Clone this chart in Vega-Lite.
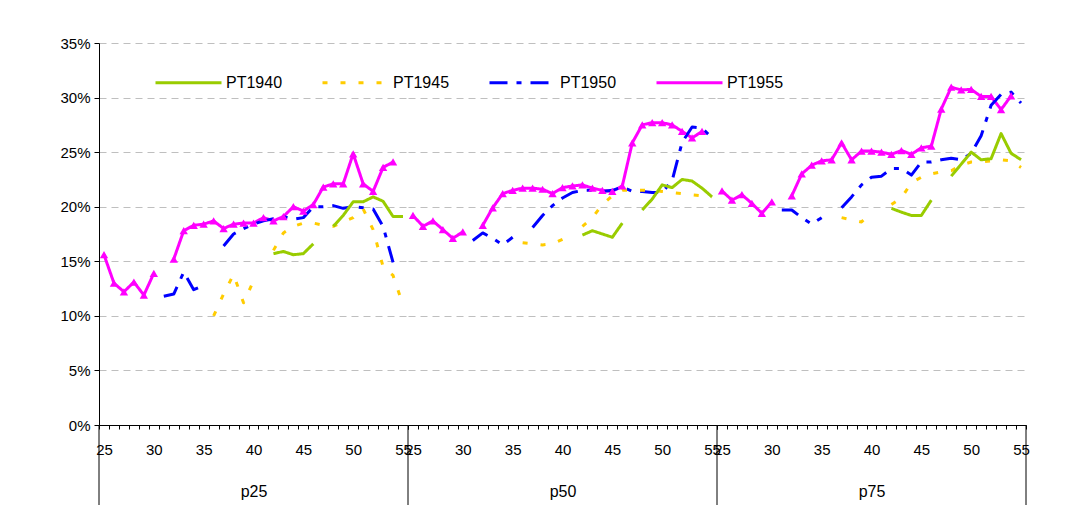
{
  "$schema": "https://vega.github.io/schema/vega-lite/v6.json",
  "background": "white",
  "padding": {"left": 59, "top": 36, "right": 5, "bottom": 5},
  "bounds": "flush",
  "datasets": {"d": [
    {"g":"p25","s":"PT1955","a":25,"v":15.6},{"g":"p25","s":"PT1955","a":26,"v":13.0},{"g":"p25","s":"PT1955","a":27,"v":12.2},{"g":"p25","s":"PT1955","a":28,"v":13.1},{"g":"p25","s":"PT1955","a":29,"v":11.9},{"g":"p25","s":"PT1955","a":30,"v":13.9},{"g":"p25","s":"PT1955","a":31,"v":null},{"g":"p25","s":"PT1955","a":32,"v":15.2},{"g":"p25","s":"PT1955","a":33,"v":17.8},{"g":"p25","s":"PT1955","a":34,"v":18.3},{"g":"p25","s":"PT1955","a":35,"v":18.4},{"g":"p25","s":"PT1955","a":36,"v":18.7},{"g":"p25","s":"PT1955","a":37,"v":18.0},{"g":"p25","s":"PT1955","a":38,"v":18.4},{"g":"p25","s":"PT1955","a":39,"v":18.5},{"g":"p25","s":"PT1955","a":40,"v":18.5},{"g":"p25","s":"PT1955","a":41,"v":19.0},{"g":"p25","s":"PT1955","a":42,"v":18.7},{"g":"p25","s":"PT1955","a":43,"v":19.1},{"g":"p25","s":"PT1955","a":44,"v":20.0},{"g":"p25","s":"PT1955","a":45,"v":19.6},{"g":"p25","s":"PT1955","a":46,"v":20.2},{"g":"p25","s":"PT1955","a":47,"v":21.8},{"g":"p25","s":"PT1955","a":48,"v":22.1},{"g":"p25","s":"PT1955","a":49,"v":22.1},{"g":"p25","s":"PT1955","a":50,"v":24.85},{"g":"p25","s":"PT1955","a":51,"v":22.1},{"g":"p25","s":"PT1955","a":52,"v":21.4},{"g":"p25","s":"PT1955","a":53,"v":23.6},{"g":"p25","s":"PT1955","a":54,"v":24.1},
    {"g":"p50","s":"PT1955","a":25,"v":19.2},{"g":"p50","s":"PT1955","a":26,"v":18.2},{"g":"p50","s":"PT1955","a":27,"v":18.7},{"g":"p50","s":"PT1955","a":28,"v":17.9},{"g":"p50","s":"PT1955","a":29,"v":17.1},{"g":"p50","s":"PT1955","a":30,"v":17.7},{"g":"p50","s":"PT1955","a":31,"v":null},{"g":"p50","s":"PT1955","a":32,"v":18.3},{"g":"p50","s":"PT1955","a":33,"v":19.9},{"g":"p50","s":"PT1955","a":34,"v":21.2},{"g":"p50","s":"PT1955","a":35,"v":21.5},{"g":"p50","s":"PT1955","a":36,"v":21.7},{"g":"p50","s":"PT1955","a":37,"v":21.7},{"g":"p50","s":"PT1955","a":38,"v":21.6},{"g":"p50","s":"PT1955","a":39,"v":21.2},{"g":"p50","s":"PT1955","a":40,"v":21.75},{"g":"p50","s":"PT1955","a":41,"v":21.9},{"g":"p50","s":"PT1955","a":42,"v":22.0},{"g":"p50","s":"PT1955","a":43,"v":21.7},{"g":"p50","s":"PT1955","a":44,"v":21.5},{"g":"p50","s":"PT1955","a":45,"v":21.4},{"g":"p50","s":"PT1955","a":46,"v":21.9},{"g":"p50","s":"PT1955","a":47,"v":25.85},{"g":"p50","s":"PT1955","a":48,"v":27.5},{"g":"p50","s":"PT1955","a":49,"v":27.7},{"g":"p50","s":"PT1955","a":50,"v":27.7},{"g":"p50","s":"PT1955","a":51,"v":27.5},{"g":"p50","s":"PT1955","a":52,"v":26.9},{"g":"p50","s":"PT1955","a":53,"v":26.3},{"g":"p50","s":"PT1955","a":54,"v":26.9},
    {"g":"p75","s":"PT1955","a":25,"v":21.45},{"g":"p75","s":"PT1955","a":26,"v":20.6},{"g":"p75","s":"PT1955","a":27,"v":21.1},{"g":"p75","s":"PT1955","a":28,"v":20.3},{"g":"p75","s":"PT1955","a":29,"v":19.4},{"g":"p75","s":"PT1955","a":30,"v":20.45},{"g":"p75","s":"PT1955","a":31,"v":null},{"g":"p75","s":"PT1955","a":32,"v":21.0},{"g":"p75","s":"PT1955","a":33,"v":23.0},{"g":"p75","s":"PT1955","a":34,"v":23.8},{"g":"p75","s":"PT1955","a":35,"v":24.2},{"g":"p75","s":"PT1955","a":36,"v":24.3},{"g":"p75","s":"PT1955","a":37,"v":25.85},{"g":"p75","s":"PT1955","a":38,"v":24.3},{"g":"p75","s":"PT1955","a":39,"v":25.1},{"g":"p75","s":"PT1955","a":40,"v":25.1},{"g":"p75","s":"PT1955","a":41,"v":25.0},{"g":"p75","s":"PT1955","a":42,"v":24.8},{"g":"p75","s":"PT1955","a":43,"v":25.15},{"g":"p75","s":"PT1955","a":44,"v":24.8},{"g":"p75","s":"PT1955","a":45,"v":25.4},{"g":"p75","s":"PT1955","a":46,"v":25.55},{"g":"p75","s":"PT1955","a":47,"v":28.95},{"g":"p75","s":"PT1955","a":48,"v":30.95},{"g":"p75","s":"PT1955","a":49,"v":30.7},{"g":"p75","s":"PT1955","a":50,"v":30.75},{"g":"p75","s":"PT1955","a":51,"v":30.1},{"g":"p75","s":"PT1955","a":52,"v":30.1},{"g":"p75","s":"PT1955","a":53,"v":28.9},{"g":"p75","s":"PT1955","a":54,"v":30.15},
    {"g":"p25","s":"PT1950","a":31,"v":11.8},{"g":"p25","s":"PT1950","a":32,"v":12.0},{"g":"p25","s":"PT1950","a":33,"v":14.0},{"g":"p25","s":"PT1950","a":34,"v":12.4},{"g":"p25","s":"PT1950","a":35,"v":12.8},{"g":"p25","s":"PT1950","a":36,"v":null},{"g":"p25","s":"PT1950","a":37,"v":16.4},{"g":"p25","s":"PT1950","a":38,"v":17.5},{"g":"p25","s":"PT1950","a":39,"v":18.0},{"g":"p25","s":"PT1950","a":40,"v":18.4},{"g":"p25","s":"PT1950","a":41,"v":18.7},{"g":"p25","s":"PT1950","a":42,"v":18.9},{"g":"p25","s":"PT1950","a":43,"v":19.1},{"g":"p25","s":"PT1950","a":44,"v":18.85},{"g":"p25","s":"PT1950","a":45,"v":19.0},{"g":"p25","s":"PT1950","a":46,"v":20.0},{"g":"p25","s":"PT1950","a":47,"v":20.0},{"g":"p25","s":"PT1950","a":48,"v":20.1},{"g":"p25","s":"PT1950","a":49,"v":19.85},{"g":"p25","s":"PT1950","a":50,"v":20.0},{"g":"p25","s":"PT1950","a":51,"v":19.9},{"g":"p25","s":"PT1950","a":52,"v":19.8},{"g":"p25","s":"PT1950","a":53,"v":18.2},{"g":"p25","s":"PT1950","a":54,"v":14.9},
    {"g":"p50","s":"PT1950","a":31,"v":16.9},{"g":"p50","s":"PT1950","a":32,"v":17.6},{"g":"p50","s":"PT1950","a":33,"v":17.1},{"g":"p50","s":"PT1950","a":34,"v":16.5},{"g":"p50","s":"PT1950","a":35,"v":17.2},{"g":"p50","s":"PT1950","a":36,"v":null},{"g":"p50","s":"PT1950","a":37,"v":18.1},{"g":"p50","s":"PT1950","a":38,"v":19.2},{"g":"p50","s":"PT1950","a":39,"v":20.1},{"g":"p50","s":"PT1950","a":40,"v":20.8},{"g":"p50","s":"PT1950","a":41,"v":21.3},{"g":"p50","s":"PT1950","a":42,"v":21.5},{"g":"p50","s":"PT1950","a":43,"v":21.5},{"g":"p50","s":"PT1950","a":44,"v":21.4},{"g":"p50","s":"PT1950","a":45,"v":21.5},{"g":"p50","s":"PT1950","a":46,"v":21.8},{"g":"p50","s":"PT1950","a":47,"v":21.4},{"g":"p50","s":"PT1950","a":48,"v":21.4},{"g":"p50","s":"PT1950","a":49,"v":21.3},{"g":"p50","s":"PT1950","a":50,"v":21.3},{"g":"p50","s":"PT1950","a":51,"v":22.4},{"g":"p50","s":"PT1950","a":52,"v":25.9},{"g":"p50","s":"PT1950","a":53,"v":27.3},{"g":"p50","s":"PT1950","a":54,"v":27.2},{"g":"p50","s":"PT1950","a":55,"v":26.3},
    {"g":"p75","s":"PT1950","a":31,"v":19.7},{"g":"p75","s":"PT1950","a":32,"v":19.7},{"g":"p75","s":"PT1950","a":33,"v":19.0},{"g":"p75","s":"PT1950","a":34,"v":18.4},{"g":"p75","s":"PT1950","a":35,"v":19.0},{"g":"p75","s":"PT1950","a":36,"v":null},{"g":"p75","s":"PT1950","a":37,"v":19.9},{"g":"p75","s":"PT1950","a":38,"v":20.9},{"g":"p75","s":"PT1950","a":39,"v":22.0},{"g":"p75","s":"PT1950","a":40,"v":22.7},{"g":"p75","s":"PT1950","a":41,"v":22.8},{"g":"p75","s":"PT1950","a":42,"v":23.5},{"g":"p75","s":"PT1950","a":43,"v":23.5},{"g":"p75","s":"PT1950","a":44,"v":22.9},{"g":"p75","s":"PT1950","a":45,"v":24.1},{"g":"p75","s":"PT1950","a":46,"v":24.1},{"g":"p75","s":"PT1950","a":47,"v":24.3},{"g":"p75","s":"PT1950","a":48,"v":24.45},{"g":"p75","s":"PT1950","a":49,"v":24.3},{"g":"p75","s":"PT1950","a":50,"v":24.9},{"g":"p75","s":"PT1950","a":51,"v":26.5},{"g":"p75","s":"PT1950","a":52,"v":29.3},{"g":"p75","s":"PT1950","a":53,"v":30.3},{"g":"p75","s":"PT1950","a":54,"v":30.5},{"g":"p75","s":"PT1950","a":55,"v":29.5},
    {"g":"p25","s":"PT1945","a":36,"v":10.0},{"g":"p25","s":"PT1945","a":37,"v":12.0},{"g":"p25","s":"PT1945","a":38,"v":13.8},{"g":"p25","s":"PT1945","a":39,"v":11.2},{"g":"p25","s":"PT1945","a":40,"v":13.2},{"g":"p25","s":"PT1945","a":41,"v":null},{"g":"p25","s":"PT1945","a":42,"v":16.0},{"g":"p25","s":"PT1945","a":43,"v":17.6},{"g":"p25","s":"PT1945","a":44,"v":18.2},{"g":"p25","s":"PT1945","a":45,"v":18.5},{"g":"p25","s":"PT1945","a":46,"v":18.5},{"g":"p25","s":"PT1945","a":47,"v":18.3},{"g":"p25","s":"PT1945","a":48,"v":18.2},{"g":"p25","s":"PT1945","a":49,"v":18.6},{"g":"p25","s":"PT1945","a":50,"v":19.0},{"g":"p25","s":"PT1945","a":51,"v":19.8},{"g":"p25","s":"PT1945","a":52,"v":17.9},{"g":"p25","s":"PT1945","a":53,"v":14.5},{"g":"p25","s":"PT1945","a":54,"v":13.7},{"g":"p25","s":"PT1945","a":55,"v":11.0},
    {"g":"p50","s":"PT1945","a":36,"v":16.7},{"g":"p50","s":"PT1945","a":37,"v":16.6},{"g":"p50","s":"PT1945","a":38,"v":16.5},{"g":"p50","s":"PT1945","a":39,"v":16.6},{"g":"p50","s":"PT1945","a":40,"v":17.0},{"g":"p50","s":"PT1945","a":41,"v":null},{"g":"p50","s":"PT1945","a":42,"v":18.2},{"g":"p50","s":"PT1945","a":43,"v":19.0},{"g":"p50","s":"PT1945","a":44,"v":20.2},{"g":"p50","s":"PT1945","a":45,"v":21.0},{"g":"p50","s":"PT1945","a":46,"v":21.5},{"g":"p50","s":"PT1945","a":47,"v":21.5},{"g":"p50","s":"PT1945","a":48,"v":21.5},{"g":"p50","s":"PT1945","a":49,"v":21.5},{"g":"p50","s":"PT1945","a":50,"v":21.4},{"g":"p50","s":"PT1945","a":51,"v":21.3},{"g":"p50","s":"PT1945","a":52,"v":21.2},{"g":"p50","s":"PT1945","a":53,"v":21.1},{"g":"p50","s":"PT1945","a":54,"v":21.0},{"g":"p50","s":"PT1945","a":55,"v":20.9},
    {"g":"p75","s":"PT1945","a":37,"v":19.0},{"g":"p75","s":"PT1945","a":38,"v":18.8},{"g":"p75","s":"PT1945","a":39,"v":18.6},{"g":"p75","s":"PT1945","a":40,"v":19.5},{"g":"p75","s":"PT1945","a":41,"v":null},{"g":"p75","s":"PT1945","a":42,"v":20.2},{"g":"p75","s":"PT1945","a":43,"v":20.8},{"g":"p75","s":"PT1945","a":44,"v":22.2},{"g":"p75","s":"PT1945","a":45,"v":22.7},{"g":"p75","s":"PT1945","a":46,"v":23.0},{"g":"p75","s":"PT1945","a":47,"v":23.2},{"g":"p75","s":"PT1945","a":48,"v":23.3},{"g":"p75","s":"PT1945","a":49,"v":23.8},{"g":"p75","s":"PT1945","a":50,"v":24.1},{"g":"p75","s":"PT1945","a":51,"v":24.1},{"g":"p75","s":"PT1945","a":52,"v":24.2},{"g":"p75","s":"PT1945","a":53,"v":24.3},{"g":"p75","s":"PT1945","a":54,"v":24.2},{"g":"p75","s":"PT1945","a":55,"v":23.6},
    {"g":"p25","s":"PT1940","a":42,"v":15.7},{"g":"p25","s":"PT1940","a":43,"v":15.9},{"g":"p25","s":"PT1940","a":44,"v":15.6},{"g":"p25","s":"PT1940","a":45,"v":15.7},{"g":"p25","s":"PT1940","a":46,"v":16.6},{"g":"p25","s":"PT1940","a":47,"v":null},{"g":"p25","s":"PT1940","a":48,"v":18.2},{"g":"p25","s":"PT1940","a":49,"v":19.2},{"g":"p25","s":"PT1940","a":50,"v":20.45},{"g":"p25","s":"PT1940","a":51,"v":20.45},{"g":"p25","s":"PT1940","a":52,"v":20.9},{"g":"p25","s":"PT1940","a":53,"v":20.5},{"g":"p25","s":"PT1940","a":54,"v":19.1},{"g":"p25","s":"PT1940","a":55,"v":19.1},
    {"g":"p50","s":"PT1940","a":42,"v":17.4},{"g":"p50","s":"PT1940","a":43,"v":17.8},{"g":"p50","s":"PT1940","a":44,"v":17.5},{"g":"p50","s":"PT1940","a":45,"v":17.2},{"g":"p50","s":"PT1940","a":46,"v":18.5},{"g":"p50","s":"PT1940","a":47,"v":null},{"g":"p50","s":"PT1940","a":48,"v":19.7},{"g":"p50","s":"PT1940","a":49,"v":20.7},{"g":"p50","s":"PT1940","a":50,"v":22.0},{"g":"p50","s":"PT1940","a":51,"v":21.75},{"g":"p50","s":"PT1940","a":52,"v":22.5},{"g":"p50","s":"PT1940","a":53,"v":22.35},{"g":"p50","s":"PT1940","a":54,"v":21.7},{"g":"p50","s":"PT1940","a":55,"v":20.9},
    {"g":"p75","s":"PT1940","a":42,"v":19.85},{"g":"p75","s":"PT1940","a":43,"v":19.5},{"g":"p75","s":"PT1940","a":44,"v":19.2},{"g":"p75","s":"PT1940","a":45,"v":19.2},{"g":"p75","s":"PT1940","a":46,"v":20.6},{"g":"p75","s":"PT1940","a":47,"v":null},{"g":"p75","s":"PT1940","a":48,"v":22.8},{"g":"p75","s":"PT1940","a":49,"v":23.9},{"g":"p75","s":"PT1940","a":50,"v":25.0},{"g":"p75","s":"PT1940","a":51,"v":24.3},{"g":"p75","s":"PT1940","a":52,"v":24.4},{"g":"p75","s":"PT1940","a":53,"v":26.7},{"g":"p75","s":"PT1940","a":54,"v":24.9},{"g":"p75","s":"PT1940","a":55,"v":24.3}
  ]},
  "data": {"name": "d"},
  "spacing": 0,
  "hconcat": [
    {
      "width": 309, "height": 382,
      "transform": [{"filter": "datum.g == 'p25'"}],
      "resolve": {"axis": {"x": "independent"}},
      "layer": [
        {
          "mark": {"type": "line", "strokeWidth": 3, "strokeCap": "butt", "strokeJoin": "round", "invalid": "break-paths-filter-domains"},
          "encoding": {
            "x": {"field": "a", "type": "quantitative", "scale": {"domain": [24.5, 55.5], "nice": false, "zero": false},
              "axis": {"orient": "bottom", "title": null, "grid": false, "labels": false, "tickSize": 4, "tickColor": "black", "domainColor": "black",
                "values": [24.5,25.5,26.5,27.5,28.5,29.5,30.5,31.5,32.5,33.5,34.5,35.5,36.5,37.5,38.5,39.5,40.5,41.5,42.5,43.5,44.5,45.5,46.5,47.5,48.5,49.5,50.5,51.5,52.5,53.5,54.5,55.5]}},
            "y": {"field": "v", "type": "quantitative", "scale": {"domain": [0, 35], "nice": false},
              "axis": {"title": null, "values": [0,5,10,15,20,25,30,35], "labelExpr": "datum.value + '%'",
                "grid": true, "gridDash": [7, 5], "gridColor": "#BFBFBF",
                "gridOpacity": {"condition": {"test": "datum.value == 0", "value": 0}, "value": 1},
                "tickSize": 5, "tickColor": "black", "domainColor": "black", "labelPadding": 4}},
            "color": {"field": "s", "type": "nominal", "scale": {"domain": ["PT1940","PT1945","PT1950","PT1955"], "range": ["#99CC00","#FFCC00","#0000FF","#FF00FF"]},
              "legend": {"title": null, "orient": "none", "direction": "horizontal", "legendX": 53, "legendY": 3, "symbolType": "stroke", "symbolSize": 4356, "symbolStrokeWidth": 3, "labelOffset": 3, "columnPadding": 33, "gridAlign": "all", "padding": 2, "fillColor": "white", "labelFontSize": 16, "labelFont": "Liberation Sans", "labelColor": "black"}},
            "strokeDash": {"field": "s", "type": "nominal", "scale": {"domain": ["PT1940","PT1945","PT1950","PT1955"], "range": [[1,0],[5,13],[18,9,5,9],[1,0]]},
              "legend": {"title": null, "orient": "none", "direction": "horizontal", "legendX": 53, "legendY": 3, "symbolType": "stroke", "symbolSize": 4356, "symbolStrokeWidth": 3, "labelOffset": 3, "columnPadding": 33, "gridAlign": "all", "padding": 2, "fillColor": "white", "labelFontSize": 16, "labelFont": "Liberation Sans", "labelColor": "black"}}
          }
        },
        {
          "transform": [{"filter": "datum.s == 'PT1955' && isValid(datum.v)"}],
          "mark": {"type": "point", "shape": "triangle-up", "filled": true, "color": "#FF00FF", "opacity": 1, "size": 70},
          "encoding": {
            "x": {"field": "a", "type": "quantitative",
              "axis": {"orient": "bottom", "title": "p25", "titleFontSize": 16, "titleFontWeight": "normal", "titleColor": "black", "titlePadding": 26, "grid": false, "values": [25,30,35,40,45,50,55], "format": "d", "ticks": false, "domain": false, "labelPadding": 17, "labelFlush": false, "labelOverlap": false}},
            "y": {"field": "v", "type": "quantitative"}
          }
        },
        {"data": {"values": [{}]}, "mark": {"type": "rule", "clip": false, "color": "black", "strokeWidth": 1},
          "encoding": {"x": {"datum": 24.5, "type": "quantitative", "axis": null}, "y": {"datum": 0, "type": "quantitative"}, "y2": {"datum": -7.33}}}
      ]
    },
    {
      "width": 309, "height": 382,
      "transform": [{"filter": "datum.g == 'p50'"}],
      "resolve": {"axis": {"x": "independent"}},
      "layer": [
        {
          "mark": {"type": "line", "strokeWidth": 3, "strokeCap": "butt", "strokeJoin": "round", "invalid": "break-paths-filter-domains"},
          "encoding": {
            "x": {"field": "a", "type": "quantitative", "scale": {"domain": [24.5, 55.5], "nice": false, "zero": false},
              "axis": {"orient": "bottom", "title": null, "grid": false, "labels": false, "tickSize": 4, "tickColor": "black", "domainColor": "black",
                "values": [24.5,25.5,26.5,27.5,28.5,29.5,30.5,31.5,32.5,33.5,34.5,35.5,36.5,37.5,38.5,39.5,40.5,41.5,42.5,43.5,44.5,45.5,46.5,47.5,48.5,49.5,50.5,51.5,52.5,53.5,54.5,55.5]}},
            "y": {"field": "v", "type": "quantitative", "scale": {"domain": [0, 35], "nice": false},
              "axis": {"title": null, "values": [0,5,10,15,20,25,30,35], "labels": false, "ticks": false, "domain": false,
                "grid": true, "gridDash": [7, 5], "gridColor": "#BFBFBF",
                "gridOpacity": {"condition": {"test": "datum.value == 0", "value": 0}, "value": 1}}},
            "color": {"field": "s", "type": "nominal"},
            "strokeDash": {"field": "s", "type": "nominal"}
          }
        },
        {
          "transform": [{"filter": "datum.s == 'PT1955' && isValid(datum.v)"}],
          "mark": {"type": "point", "shape": "triangle-up", "filled": true, "color": "#FF00FF", "opacity": 1, "size": 70},
          "encoding": {
            "x": {"field": "a", "type": "quantitative",
              "axis": {"orient": "bottom", "title": "p50", "titleFontSize": 16, "titleFontWeight": "normal", "titleColor": "black", "titlePadding": 26, "grid": false, "values": [25,30,35,40,45,50,55], "format": "d", "ticks": false, "domain": false, "labelPadding": 17, "labelFlush": false, "labelOverlap": false}},
            "y": {"field": "v", "type": "quantitative"}
          }
        },
        {"data": {"values": [{}]}, "mark": {"type": "rule", "clip": false, "color": "black", "strokeWidth": 1},
          "encoding": {"x": {"datum": 24.5, "type": "quantitative", "axis": null}, "y": {"datum": 0, "type": "quantitative"}, "y2": {"datum": -7.33}}}
      ]
    },
    {
      "width": 309, "height": 382,
      "transform": [{"filter": "datum.g == 'p75'"}],
      "resolve": {"axis": {"x": "independent"}},
      "layer": [
        {
          "mark": {"type": "line", "strokeWidth": 3, "strokeCap": "butt", "strokeJoin": "round", "invalid": "break-paths-filter-domains"},
          "encoding": {
            "x": {"field": "a", "type": "quantitative", "scale": {"domain": [24.5, 55.5], "nice": false, "zero": false},
              "axis": {"orient": "bottom", "title": null, "grid": false, "labels": false, "tickSize": 4, "tickColor": "black", "domainColor": "black",
                "values": [24.5,25.5,26.5,27.5,28.5,29.5,30.5,31.5,32.5,33.5,34.5,35.5,36.5,37.5,38.5,39.5,40.5,41.5,42.5,43.5,44.5,45.5,46.5,47.5,48.5,49.5,50.5,51.5,52.5,53.5,54.5,55.5]}},
            "y": {"field": "v", "type": "quantitative", "scale": {"domain": [0, 35], "nice": false},
              "axis": {"title": null, "values": [0,5,10,15,20,25,30,35], "labels": false, "ticks": false, "domain": false,
                "grid": true, "gridDash": [7, 5], "gridColor": "#BFBFBF",
                "gridOpacity": {"condition": {"test": "datum.value == 0", "value": 0}, "value": 1}}},
            "color": {"field": "s", "type": "nominal"},
            "strokeDash": {"field": "s", "type": "nominal"}
          }
        },
        {
          "transform": [{"filter": "datum.s == 'PT1955' && isValid(datum.v)"}],
          "mark": {"type": "point", "shape": "triangle-up", "filled": true, "color": "#FF00FF", "opacity": 1, "size": 70},
          "encoding": {
            "x": {"field": "a", "type": "quantitative",
              "axis": {"orient": "bottom", "title": "p75", "titleFontSize": 16, "titleFontWeight": "normal", "titleColor": "black", "titlePadding": 26, "grid": false, "values": [25,30,35,40,45,50,55], "format": "d", "ticks": false, "domain": false, "labelPadding": 17, "labelFlush": false, "labelOverlap": false}},
            "y": {"field": "v", "type": "quantitative"}
          }
        },
        {"data": {"values": [{}]}, "mark": {"type": "rule", "clip": false, "color": "black", "strokeWidth": 1},
          "encoding": {"x": {"datum": 24.5, "type": "quantitative", "axis": null}, "y": {"datum": 0, "type": "quantitative"}, "y2": {"datum": -7.33}}},
        {"data": {"values": [{}]}, "mark": {"type": "rule", "clip": false, "color": "black", "strokeWidth": 1},
          "encoding": {"x": {"datum": 55.5, "type": "quantitative", "axis": null}, "y": {"datum": 0, "type": "quantitative"}, "y2": {"datum": -7.33}}}
      ]
    }
  ],
  "config": {
    "view": {"stroke": null},
    "font": "Liberation Sans",
    "axis": {"labelFont": "Liberation Sans", "labelFontSize": 15, "labelColor": "black", "titleFont": "Liberation Sans"}
  }
}
